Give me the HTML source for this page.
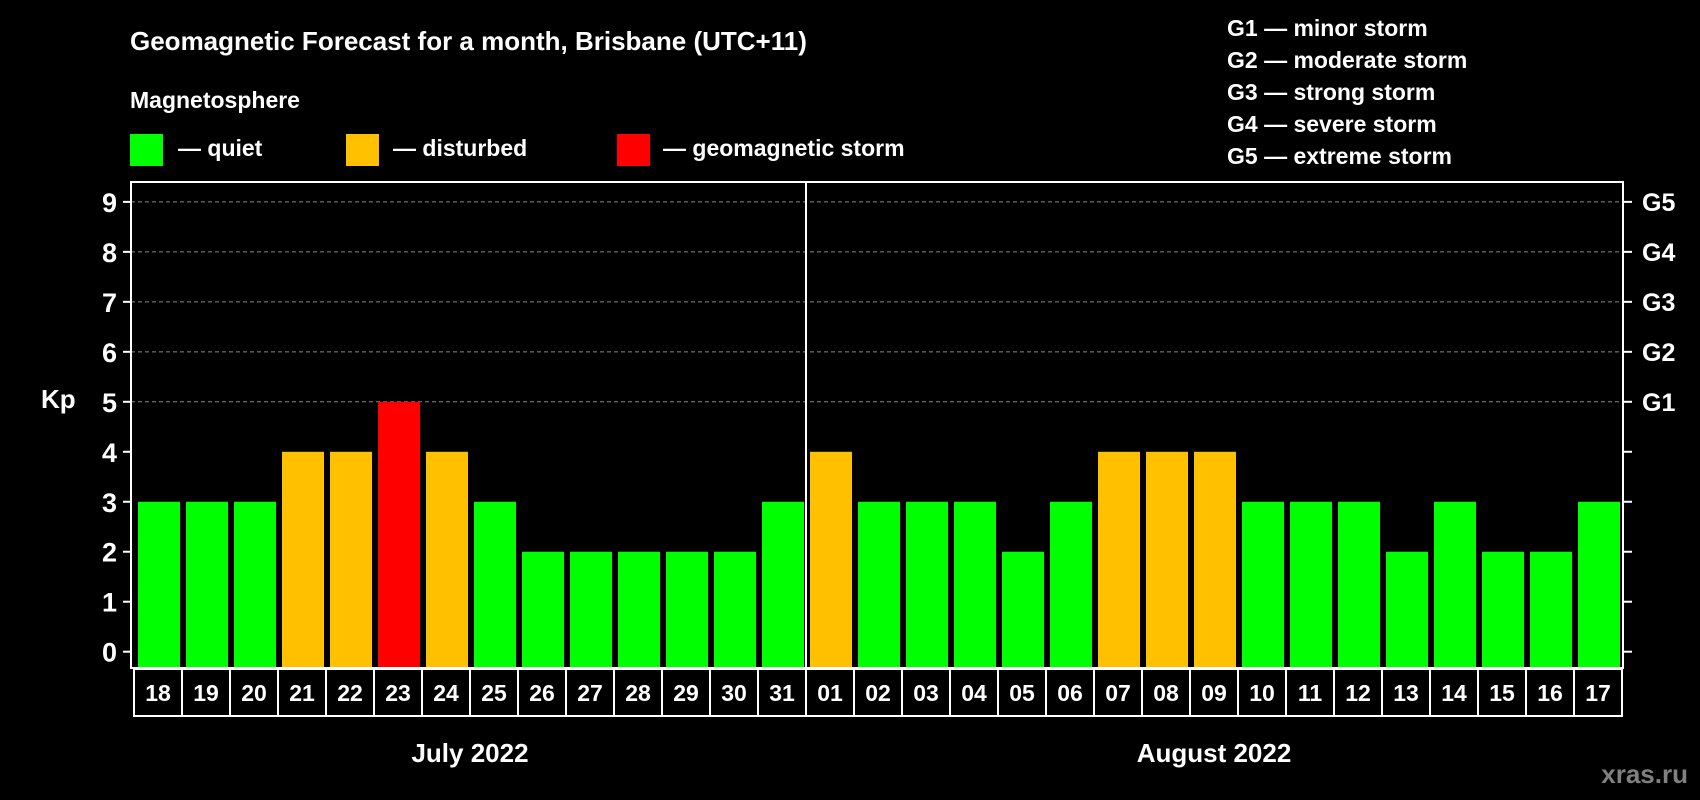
<!DOCTYPE html>
<html><head><meta charset="utf-8"><style>
html,body{margin:0;padding:0;background:#000;}
svg{display:block;font-family:"Liberation Sans",Arial,sans-serif;font-weight:bold;}
</style></head><body>
<svg id="chart" width="1700" height="800" viewBox="0 0 1700 800" xmlns="http://www.w3.org/2000/svg">
<rect x="0" y="0" width="1700" height="800" fill="#000"/>
<text x="130" y="50" fill="#fff" font-size="26">Geomagnetic Forecast for a month, Brisbane (UTC+11)</text>
<text x="130" y="108" fill="#fff" font-size="23">Magnetosphere</text>
<g><rect x="130" y="134" width="33" height="32" fill="#00ff00"/><text x="178" y="156" fill="#fff" font-size="23">— quiet</text></g>
<g><rect x="346" y="134" width="33" height="32" fill="#ffc000"/><text x="393" y="156" fill="#fff" font-size="23">— disturbed</text></g>
<g><rect x="617" y="134" width="33" height="32" fill="#ff0000"/><text x="663" y="156" fill="#fff" font-size="23">— geomagnetic storm</text></g>
<g fill="#fff" font-size="23">
<text x="1227" y="36">G1 — minor storm</text>
<text x="1227" y="68">G2 — moderate storm</text>
<text x="1227" y="100">G3 — strong storm</text>
<text x="1227" y="132">G4 — severe storm</text>
<text x="1227" y="164">G5 — extreme storm</text>
</g>
<text x="41" y="408" fill="#fff" font-size="26">Kp</text>
<text x="1688" y="783" fill="#808080" font-size="26" text-anchor="end">xras.ru</text>
<g id="grid"></g><g id="bars"></g><g id="axes"></g>
</svg>
<script>
const days = ["18","19","20","21","22","23","24","25","26","27","28","29","30","31","01","02","03","04","05","06","07","08","09","10","11","12","13","14","15","16","17"];
const kpValues = [3,3,3,4,4,5,4,3,2,2,2,2,2,3,4,3,3,3,2,3,4,4,4,3,3,3,2,3,2,2,3];
const yTicks = [0,1,2,3,4,5,6,7,8,9];
const gLabels = ["G1","G2","G3","G4","G5"];
const gLevels = [5,6,7,8,9];
const months = ["July 2022","August 2022"];
const monthStarts = [0,14];

const NS="http://www.w3.org/2000/svg";
const plotL=131,plotR=1623,plotT=182,plotB=668;
const y0=651.7,unit=49.98;
function yScale(v){return y0-v*unit;}
const boxL=134,pitch=48;
function xScale(i){return boxL+i*pitch;}
function mk(tag,attrs,parent){const e=document.createElementNS(NS,tag);for(const k in attrs)e.setAttribute(k,attrs[k]);parent.appendChild(e);return e;}
const grid=document.getElementById('grid'),bars=document.getElementById('bars'),axes=document.getElementById('axes');
function color(v){return v>=5?"#ff0000":(v>=4?"#ffc000":"#00ff00");}

gLevels.forEach((lv,k)=>{
  const l=mk('line',{x1:plotL,x2:plotR,y1:yScale(lv),y2:yScale(lv),stroke:'#888','stroke-width':1,'stroke-dasharray':'4,3'},grid);
  
  
  const t=mk('text',{x:1642,y:yScale(lv)+9,fill:'#fff','font-size':25},axes);
  t.textContent=gLabels[k];
  
  
});
kpValues.forEach((v,i)=>{
  const b=mk('rect',{x:xScale(i)+4,y:yScale(v),width:42,height:plotB-yScale(v),fill:color(v)},bars);
  
  
  const bx=mk('rect',{x:xScale(i),y:plotB+1,width:pitch,height:47,fill:'none',stroke:'#fff','stroke-width':2},axes);
  
  
  const t=mk('text',{x:xScale(i)+pitch/2,y:plotB+33,fill:'#fff','font-size':23,'text-anchor':'middle'},axes);
  t.textContent=days[i];
  
  
});
yTicks.forEach(v=>{
  const t=mk('text',{x:117,y:yScale(v)+10,fill:'#fff','font-size':27,'text-anchor':'end'},axes);
  t.textContent=v;
  
  
  const tl=mk('line',{x1:123,x2:plotL,y1:yScale(v),y2:yScale(v),stroke:'#fff','stroke-width':2},axes);
  
  
  const tr=mk('line',{x1:plotR,x2:plotR+9,y1:yScale(v),y2:yScale(v),stroke:'#fff','stroke-width':2},axes);
  
  
});
const frame=mk('rect',{x:plotL,y:plotT,width:plotR-plotL,height:plotB-plotT,fill:'none',stroke:'#fff','stroke-width':2},axes);


const sep=mk('line',{x1:xScale(monthStarts[1]),x2:xScale(monthStarts[1]),y1:plotT,y2:plotB,stroke:'#fff','stroke-width':2},axes);


months.forEach((m,k)=>{
  const s=monthStarts[k],e=k+1<monthStarts.length?monthStarts[k+1]:days.length;
  const t=mk('text',{x:(xScale(s)+xScale(e))/2,y:762,fill:'#fff','font-size':26,'text-anchor':'middle'},axes);
  t.textContent=m;
  
  
});
</script>
</body></html>
